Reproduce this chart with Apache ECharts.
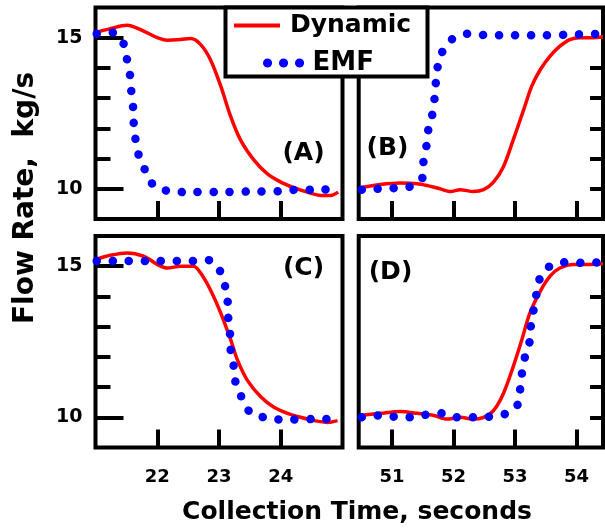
<!DOCTYPE html>
<html>
<head>
<meta charset="utf-8">
<script src="https://cdn.jsdelivr.net/npm/echarts@6.0.0/dist/echarts.min.js"></script>
<style>
  html, body { margin: 0; padding: 0; background: #fff; }
  #main { width: 605px; height: 531px; }
</style>
</head>
<body>
<div id="main"></div>
<script>
// ---- values (time in s, flow in kg/s) ----
// (A) / (C): step down 15 -> 10
const dynA_t = [21.0, 21.24, 21.51, 21.78, 22.0, 22.16, 22.38, 22.54, 22.7, 22.86, 23.03, 23.19, 23.35, 23.57, 23.78, 24.0, 24.22, 24.43, 24.65, 24.81, 24.93];
const dynA_v = [15.17, 15.3, 15.41, 15.22, 15.0, 14.92, 14.94, 14.97, 14.78, 14.28, 13.39, 12.39, 11.61, 10.94, 10.5, 10.22, 10.03, 9.89, 9.78, 9.78, 9.89];
const emfA_t = [21.02, 21.3, 21.46, 21.51, 21.56, 21.58, 21.61, 21.62, 21.65, 21.7, 21.8, 21.94, 22.18, 22.43, 23.0, 23.5, 24.0, 24.26, 24.5, 24.97];
const emfA_v = [15.13, 15.17, 14.78, 14.28, 13.74, 13.22, 12.67, 12.14, 11.61, 11.11, 10.63, 10.11, 9.92, 9.89, 9.89, 9.91, 9.92, 9.97, 9.97, 9.99];

const dynC_t = [21.0, 21.24, 21.51, 21.78, 22.0, 22.16, 22.38, 22.59, 22.7, 22.86, 23.03, 23.19, 23.3, 23.46, 23.68, 23.89, 24.11, 24.32, 24.54, 24.76, 24.92];
const dynC_v = [15.22, 15.36, 15.44, 15.33, 15.06, 14.94, 15.0, 15.0, 14.78, 14.22, 13.44, 12.56, 11.89, 11.22, 10.67, 10.33, 10.13, 10.0, 9.89, 9.83, 9.89];
const emfC_t = [21.02, 21.5, 22.0, 22.59, 22.85, 23.02, 23.1, 23.14, 23.15, 23.18, 23.19, 23.24, 23.27, 23.36, 23.5, 23.76, 24.02, 24.5, 24.97];
const emfC_v = [15.17, 15.17, 15.17, 15.17, 15.2, 14.83, 14.33, 13.83, 13.28, 12.72, 12.2, 11.67, 11.13, 10.69, 10.17, 9.98, 9.92, 9.94, 9.94];

// (B) / (D): step up 10 -> 15
const dynB_t = [50.47, 50.81, 51.14, 51.41, 51.57, 51.78, 51.95, 52.11, 52.32, 52.49, 52.65, 52.81, 52.97, 53.14, 53.27, 53.41, 53.57, 53.73, 53.89, 54.05, 54.27, 54.43];
const dynB_v = [10.03, 10.14, 10.19, 10.17, 10.11, 10.0, 9.91, 9.97, 9.91, 9.97, 10.22, 10.72, 11.61, 12.61, 13.39, 13.94, 14.39, 14.72, 14.94, 15.0, 15.0, 15.03];
const emfB_t = [50.51, 50.76, 51.02, 51.28, 51.49, 51.51, 51.56, 51.59, 51.65, 51.69, 51.71, 51.74, 51.81, 51.97, 52.22, 52.48, 53.0, 53.5, 54.03, 54.43];
const emfB_v = [9.97, 10.0, 10.02, 10.06, 10.33, 10.86, 11.41, 11.94, 12.39, 12.94, 13.44, 14.0, 14.5, 14.94, 15.13, 15.09, 15.08, 15.08, 15.11, 15.13];

const dynD_t = [50.47, 50.81, 51.14, 51.41, 51.68, 51.89, 52.11, 52.32, 52.49, 52.65, 52.81, 52.97, 53.11, 53.24, 53.41, 53.57, 53.73, 53.95, 54.22, 54.43];
const dynD_v = [10.06, 10.13, 10.19, 10.13, 10.06, 9.94, 10.0, 9.94, 10.0, 10.22, 10.78, 11.67, 12.56, 13.44, 14.17, 14.67, 14.94, 15.06, 15.06, 15.08];
const emfD_t = [50.51, 50.77, 51.03, 51.29, 51.54, 51.81, 52.05, 52.32, 52.58, 52.84, 53.04, 53.08, 53.11, 53.16, 53.23, 53.25, 53.29, 53.34, 53.39, 53.52, 53.77, 54.03, 54.43];
const emfD_v = [10.0, 10.06, 10.02, 10.0, 10.08, 10.13, 10.0, 10.0, 10.02, 10.11, 10.41, 10.87, 11.42, 11.98, 12.39, 12.91, 13.42, 13.98, 14.53, 14.94, 15.13, 15.11, 15.13];

// ticks / labels
const xTicksLeft = [22, 23, 24];
const xTicksRight = [51, 52, 53, 54];
const yMajor = [10, 15];
const yMinor = [11, 12, 13, 14];
const yRight = [10, 11, 12, 13, 14];

const FONT = '"DejaVu Sans", sans-serif';
const RED = '#f00';
const BLUE = '#0000ff';

const pts = (t, v) => t.map((x, i) => [x, v[i]]);

const chart = echarts.init(document.getElementById('main'));

function xAxis(grid, min, max, ticks, showLabel) {
    return {
        type: 'value', gridIndex: grid, min: min, max: max,
        axisLine: { show: false }, splitLine: { show: false },
        axisTick: { show: true, inside: true, length: 18, customValues: ticks, lineStyle: { color: '#000', width: 4 } },
        axisLabel: { show: showLabel, customValues: ticks, margin: 21, color: '#000', fontSize: 18, fontWeight: 'bold', fontFamily: FONT }
    };
}

function yAxis(grid, pos, ticks, len, showLabel) {
    return {
        type: 'value', gridIndex: grid, position: pos, min: 9, max: 16,
        axisLine: { show: false }, splitLine: { show: false },
        axisTick: { show: true, inside: true, length: len, customValues: ticks, lineStyle: { color: '#000', width: 4 } },
        axisLabel: { show: showLabel, customValues: ticks, margin: 13, color: '#000', fontSize: 19, fontWeight: 'bold', fontFamily: FONT }
    };
}

function dyn(data, xi, yi) {
    return {
        name: 'Dynamic', type: 'line', xAxisIndex: xi, yAxisIndex: yi, data: data,
        symbol: 'none', smooth: 0.3, clip: false,
        lineStyle: { color: RED, width: 3.5 }, itemStyle: { color: RED }
    };
}
function emf(data, xi, yi) {
    return {
        name: 'EMF', type: 'line', xAxisIndex: xi, yAxisIndex: yi, data: data,
        symbol: 'none', smooth: 0.2, clip: false, z: 3,
        lineStyle: { color: BLUE, width: 8.5, type: [0.1, 15.9], cap: 'round' }, itemStyle: { color: BLUE }
    };
}

const gridBase = { show: true, borderColor: '#000', borderWidth: 4, backgroundColor: 'transparent', outerBoundsMode: 'none' };

chart.setOption({
    animation: false,
    backgroundColor: '#fff',
    grid: [
        Object.assign({ left: 95.5, top: 7.5, width: 247, height: 211.5 }, gridBase),
        Object.assign({ left: 358.7, top: 7.5, width: 244.3, height: 211.5 }, gridBase),
        Object.assign({ left: 95.5, top: 236, width: 247, height: 211.5 }, gridBase),
        Object.assign({ left: 358.7, top: 236, width: 244.3, height: 211.5 }, gridBase)
    ],
    xAxis: [
        xAxis(0, 21, 25, xTicksLeft, false),
        xAxis(1, 50.46, 54.43, xTicksRight, false),
        xAxis(2, 21, 25, xTicksLeft, true),
        xAxis(3, 50.46, 54.43, xTicksRight, true)
    ],
    yAxis: [
        yAxis(0, 'left', yMajor, 28, true),
        yAxis(0, 'left', yMinor, 15, false),
        yAxis(1, 'right', yRight, 13, false),
        yAxis(2, 'left', yMajor, 28, true),
        yAxis(2, 'left', yMinor, 15, false),
        yAxis(3, 'right', yRight, 13, false)
    ],
    legend: [
        {
            data: ['Dynamic'], left: 232, top: 13, padding: 0, itemWidth: 46, itemHeight: 14,
            selectedMode: false, z: 20, lineStyle: { width: 4 }, itemStyle: { opacity: 0 },
            textStyle: { color: '#000', fontSize: 25, fontWeight: 'bold', fontFamily: FONT, padding: [0, 0, 0, 5] }
        },
        {
            data: ['EMF'], left: 263, top: 50, padding: 0, itemWidth: 40, itemHeight: 14,
            selectedMode: false, z: 20, lineStyle: { width: 9 }, itemStyle: { opacity: 0 },
            textStyle: { color: '#000', fontSize: 26, fontWeight: 'bold', fontFamily: FONT }
        }
    ],
    graphic: [
        { type: 'rect', z: 15, shape: { x: 225.5, y: 7.5, width: 202, height: 69 },
          style: { fill: '#fff', stroke: '#000', lineWidth: 4 } },
        { type: 'text', x: 26, y: 198, rotation: Math.PI / 2,
          style: { text: 'Flow Rate,  kg/s', font: 'bold 28px ' + FONT, fill: '#000', align: 'center', verticalAlign: 'middle' } },
        { type: 'text', x: 357, y: 512,
          style: { text: 'Collection Time, seconds', font: 'bold 25px ' + FONT, fill: '#000', align: 'center', verticalAlign: 'middle' } },
        { type: 'text', x: 303.5, y: 153, style: { text: '(A)', font: 'bold 25px ' + FONT, fill: '#000', align: 'center', verticalAlign: 'middle' } },
        { type: 'text', x: 387.5, y: 148, style: { text: '(B)', font: 'bold 25px ' + FONT, fill: '#000', align: 'center', verticalAlign: 'middle' } },
        { type: 'text', x: 303.5, y: 268, style: { text: '(C)', font: 'bold 25px ' + FONT, fill: '#000', align: 'center', verticalAlign: 'middle' } },
        { type: 'text', x: 390.5, y: 272, style: { text: '(D)', font: 'bold 25px ' + FONT, fill: '#000', align: 'center', verticalAlign: 'middle' } }
    ],
    series: [
        dyn(pts(dynA_t, dynA_v), 0, 0),
        emf(pts(emfA_t, emfA_v), 0, 0),
        dyn(pts(dynB_t, dynB_v), 1, 2),
        emf(pts(emfB_t, emfB_v), 1, 2),
        dyn(pts(dynC_t, dynC_v), 2, 3),
        emf(pts(emfC_t, emfC_v), 2, 3),
        dyn(pts(dynD_t, dynD_v), 3, 5),
        emf(pts(emfD_t, emfD_v), 3, 5)
    ]
});
</script>
</body>
</html>
